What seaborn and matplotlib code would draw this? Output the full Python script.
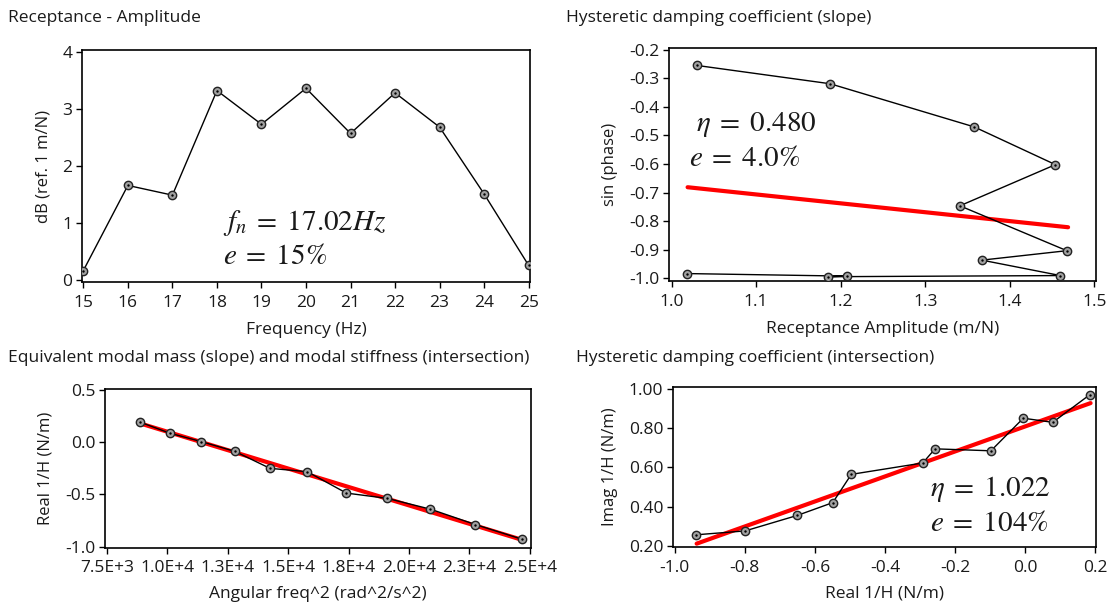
import numpy as np
import pandas as pd
import matplotlib
matplotlib.use("Agg")
import matplotlib.pyplot as plt
import seaborn as sns

# ---------------- data ----------------
freq_hz = [15, 16, 17, 18, 19, 20, 21, 22, 23, 24, 25]
amp_db = [0.17, 1.66, 1.49, 3.32, 2.73, 3.36, 2.57, 3.28, 2.68, 1.51, 0.26]

rec_amp = [1.018, 1.207, 1.185, 1.460, 1.367, 1.4675, 1.341, 1.454, 1.358, 1.1875, 1.030]
sin_phase = [-0.983, -0.992, -0.994, -0.990, -0.936, -0.903, -0.746, -0.602, -0.470, -0.319, -0.255]
slope_fit_x = [1.019, 1.469]
slope_fit_y = [-0.681, -0.821]

omega_sq = [8883, 10106, 11409, 12791, 14251, 15791, 17410, 19107, 20884, 22739, 24674]
real_inv_h = [0.192, 0.087, 0.006, -0.087, -0.250, -0.282, -0.487, -0.538, -0.641, -0.788, -0.929]
mass_fit_x = [8883, 24674]
mass_fit_y = [0.180, -0.935]
omega_ticks = [7500, 10000, 12500, 15000, 17500, 20000, 22500, 25000]
omega_tick_labels = ["7.5E+3", "1.0E+4", "1.3E+4", "1.5E+4", "1.8E+4", "2.0E+4", "2.3E+4", "2.5E+4"]

re_inv_h = [-0.940, -0.799, -0.650, -0.549, -0.496, -0.292, -0.257, -0.0975, -0.005, 0.079, 0.185]
im_inv_h = [0.257, 0.277, 0.356, 0.421, 0.565, 0.623, 0.695, 0.685, 0.851, 0.830, 0.971]
inter_fit_x = [-0.9375, 0.187]
inter_fit_y = [0.212, 0.928]

# ---------------- style ----------------
sns.set_theme(style="white")
plt.rcParams["font.family"] = ["Open Sans", "DejaVu Sans"]
plt.rcParams["mathtext.fontset"] = "stix"
plt.rcParams["axes.unicode_minus"] = False

W, H = 1110, 608
fig = plt.figure(figsize=(W / 100, H / 100), dpi=100)
fig.patch.set_facecolor("white")


def add_ax(x0, y0, x1, y1):
    return fig.add_axes([x0 / W, 1 - y1 / H, (x1 - x0) / W, (y1 - y0) / H])


TICK_FS = 12.5
LAB_FS = 12.5
YLAB_FS = 12
TITLE_FS = 12.5
MATH_FS = 21
TXT = "#1a1a1a"


def style_ax(ax):
    for s in ax.spines.values():
        s.set_visible(True)
        s.set_color("black")
        s.set_linewidth(1.2)
    ax.tick_params(axis="both", which="major", direction="out", length=4, width=1,
                   color="black", labelsize=TICK_FS, labelcolor=TXT,
                   left=True, bottom=True)
    ax.tick_params(axis="x", pad=5)
    ax.tick_params(axis="y", pad=3)
    ax.grid(False)


def draw_series(ax, x, y):
    df = pd.DataFrame({"x": x, "y": y})
    sns.lineplot(data=df, x="x", y="y", sort=False, estimator=None, color="black",
                 linewidth=1.0, marker="o", markersize=6, markerfacecolor="#a0a0a0",
                 markeredgecolor="#222222", markeredgewidth=1.0, ax=ax, zorder=3)
    ax.scatter(x, y, s=3, color="black", zorder=4, linewidths=0)


def draw_fit(ax, x, y):
    sns.lineplot(x=x, y=y, sort=False, estimator=None, color="#ff0000", linewidth=3.0,
                 ax=ax, zorder=2)


# ---- top-left ----
ax1 = add_ax(82, 50, 530, 282)
draw_series(ax1, freq_hz, amp_db)
ax1.set_xlim(14.97, 25.03)
ax1.set_ylim(-0.03, 4.03)
ax1.set_xticks(freq_hz)
ax1.set_yticks([0, 1, 2, 3, 4])
style_ax(ax1)
ax1.set_xlabel("Frequency (Hz)", fontsize=LAB_FS, labelpad=8, color=TXT)
ax1.set_ylabel("dB (ref. 1 m/N)", fontsize=YLAB_FS, labelpad=8, color=TXT)
ax1.text(18.14, 0.88, r"$f_n\;=\;17.02Hz$", fontsize=MATH_FS, va="baseline", color=TXT)
ax1.text(18.14, 0.29, r"$e\;=\;15\%$", fontsize=MATH_FS, va="baseline", color=TXT)

# ---- top-right ----
ax2 = add_ax(669, 48, 1096, 281)
draw_fit(ax2, slope_fit_x, slope_fit_y)
draw_series(ax2, rec_amp, sin_phase)
ax2.set_xlim(0.997, 1.502)
ax2.set_ylim(-1.009, -0.194)
ax2.set_xticks([1.0, 1.1, 1.2, 1.3, 1.4, 1.5])
ax2.set_yticks([-0.2, -0.3, -0.4, -0.5, -0.6, -0.7, -0.8, -0.9, -1.0])
ax2.xaxis.set_major_formatter(matplotlib.ticker.FormatStrFormatter("%.1f"))
ax2.yaxis.set_major_formatter(matplotlib.ticker.FormatStrFormatter("%.1f"))
style_ax(ax2)
ax2.set_xlabel("Receptance Amplitude (m/N)", fontsize=LAB_FS, labelpad=8, color=TXT)
ax2.set_ylabel("sin (phase)", fontsize=YLAB_FS, labelpad=8, color=TXT)
ax2.text(1.029, -0.486, r"$\eta\;=\;0.480$", fontsize=MATH_FS, va="baseline", color=TXT)
ax2.text(1.021, -0.605, r"$e\;=\;4.0\%$", fontsize=MATH_FS, va="baseline", color=TXT)

# ---- bottom-left ----
ax3 = add_ax(105, 389, 531, 548)
draw_fit(ax3, mass_fit_x, mass_fit_y)
draw_series(ax3, omega_sq, real_inv_h)
ax3.set_xlim(7427, 25044)
ax3.set_ylim(-1.013, 0.51)
ax3.set_xticks(omega_ticks)
ax3.set_xticklabels(omega_tick_labels)
ax3.set_yticks([0.5, 0.0, -0.5, -1.0])
ax3.yaxis.set_major_formatter(matplotlib.ticker.FormatStrFormatter("%.1f"))
style_ax(ax3)
ax3.set_xlabel("Angular freq^2 (rad^2/s^2)", fontsize=LAB_FS, labelpad=7, color=TXT)
ax3.set_ylabel("Real 1/H (N/m)", fontsize=YLAB_FS, labelpad=8, color=TXT)

# ---- bottom-right ----
ax4 = add_ax(673, 387, 1096, 547)
draw_fit(ax4, inter_fit_x, inter_fit_y)
draw_series(ax4, re_inv_h, im_inv_h)
ax4.set_xlim(-1.005, 0.2025)
ax4.set_ylim(0.195, 1.010)
ax4.set_xticks([-1.0, -0.8, -0.6, -0.4, -0.2, 0.0, 0.2])
ax4.set_yticks([0.2, 0.4, 0.6, 0.8, 1.0])
ax4.xaxis.set_major_formatter(matplotlib.ticker.FormatStrFormatter("%.1f"))
ax4.yaxis.set_major_formatter(matplotlib.ticker.FormatStrFormatter("%.2f"))
style_ax(ax4)
ax4.set_xlabel("Real 1/H (N/m)", fontsize=LAB_FS, labelpad=7, color=TXT)
ax4.set_ylabel("Imag 1/H (N/m)", fontsize=YLAB_FS, labelpad=8, color=TXT)
ax4.text(-0.272, 0.457, r"$\eta\;=\;1.022$", fontsize=MATH_FS, va="baseline", color=TXT)
ax4.text(-0.272, 0.274, r"$e\;=\;104\%$", fontsize=MATH_FS, va="baseline", color=TXT)

# ---- panel titles ----
fig.text(8 / W, 1 - 18 / H, "Receptance - Amplitude", fontsize=TITLE_FS, va="center", ha="left", color=TXT)
fig.text(566 / W, 1 - 18 / H, "Hysteretic damping coefficient (slope)", fontsize=TITLE_FS, va="center", ha="left", color=TXT)
fig.text(8 / W, 1 - 358 / H, "Equivalent modal mass (slope) and modal stiffness (intersection)", fontsize=TITLE_FS, va="center", ha="left", color=TXT)
fig.text(576 / W, 1 - 358 / H, "Hysteretic damping coefficient (intersection)", fontsize=TITLE_FS, va="center", ha="left", color=TXT)

fig.savefig("out.png", dpi=100, facecolor="white")
